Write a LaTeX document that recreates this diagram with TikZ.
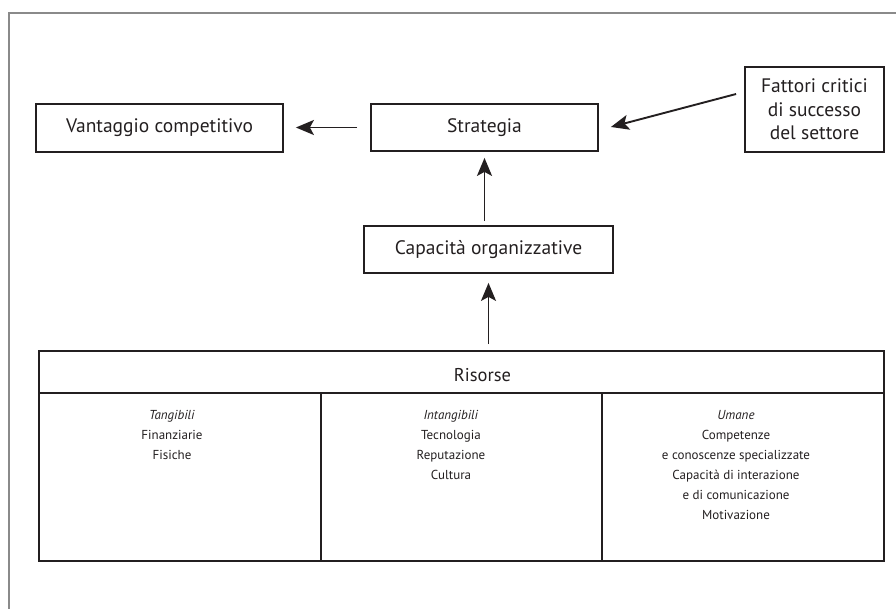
\documentclass[tikz,border=0pt]{standalone}
\usepackage{fontspec}
\setmainfont{PT Sans}
\usetikzlibrary{arrows.meta}
\definecolor{ink}{HTML}{231F20}
\definecolor{framegray}{HTML}{8A8A8A}
\begin{document}
\begin{tikzpicture}[x=1pt,y=-1pt,
  box/.style={draw=ink, line width=1.8pt, text=ink, inner sep=0pt, align=center,
    font=\fontsize{19.5}{23.5}\selectfont},
  arr/.style={draw=ink, line width=1.9pt,
    -{Stealth[length=18pt,width=15pt,inset=4pt]}},
  head/.style={text=ink, font=\fontsize{18.5}{20}\selectfont, inner sep=0pt},
  cell/.style={text=ink, font=\fontsize{13}{20}\selectfont, align=center,
    anchor=north, inner sep=0pt},
  grid/.style={draw=ink, line width=1.8pt}]
\useasboundingbox (0,0) rectangle (896,609);

% page frame (top and left edges)
\draw[framegray, line width=2pt] (9,609) -- (9,13) -- (896,13);

% upper boxes
\node[box, minimum width=247pt, minimum height=48pt] (vant) at (159.5,128) {Vantaggio competitivo};
\node[box, minimum width=227pt, minimum height=47pt] (strat) at (484.5,127.5) {Strategia};
\node[box, minimum width=139pt, minimum height=85pt] (fatt) at (814.5,109.5)
  {Fattori critici\\di successo\\del settore};
\node[box, minimum width=249pt, minimum height=47pt] (cap) at (488.5,249.5) {Capacità organizzative};

% resources table
\node[grid, minimum width=845pt, minimum height=210pt, inner sep=0pt] (ris) at (461.5,456) {};
\node[head] (rist) at (482.5,375) {Risorse};
\draw[grid] (39,393) -- (884,393);
\draw[grid] (321,393) -- (321,561);
\draw[grid] (602,393) -- (602,561);

\node[cell] (tang) at (172,410) {\textit{Tangibili}\\Finanziarie\\Fisiche};
\node[cell] (intang) at (451,410) {\textit{Intangibili}\\Tecnologia\\Reputazione\\Cultura};
\node[cell] (uman) at (736,410) {\textit{Umane}\\Competenze\\e conoscenze specializzate\\Capacità di interazione\\e di comunicazione\\Motivazione};

% connectors
\draw[arr, shorten <=13pt, shorten >=12pt] (strat.west) -- (vant.east |- strat.west);
\coordinate (ftail) at ([shift={(-8,-15.5)}]fatt.west);
\coordinate (ftip) at ([shift={(12,-0.5)}]strat.east);
\draw[arr] (ftail) -- (ftip);
\draw[arr, shorten <=4pt, shorten >=6pt] (cap.north -| strat.south) -- (strat.south);
\draw[arr, shorten <=6pt, shorten >=9pt] (ris.north -| cap.south) -- (cap.south);
\end{tikzpicture}
\end{document}
